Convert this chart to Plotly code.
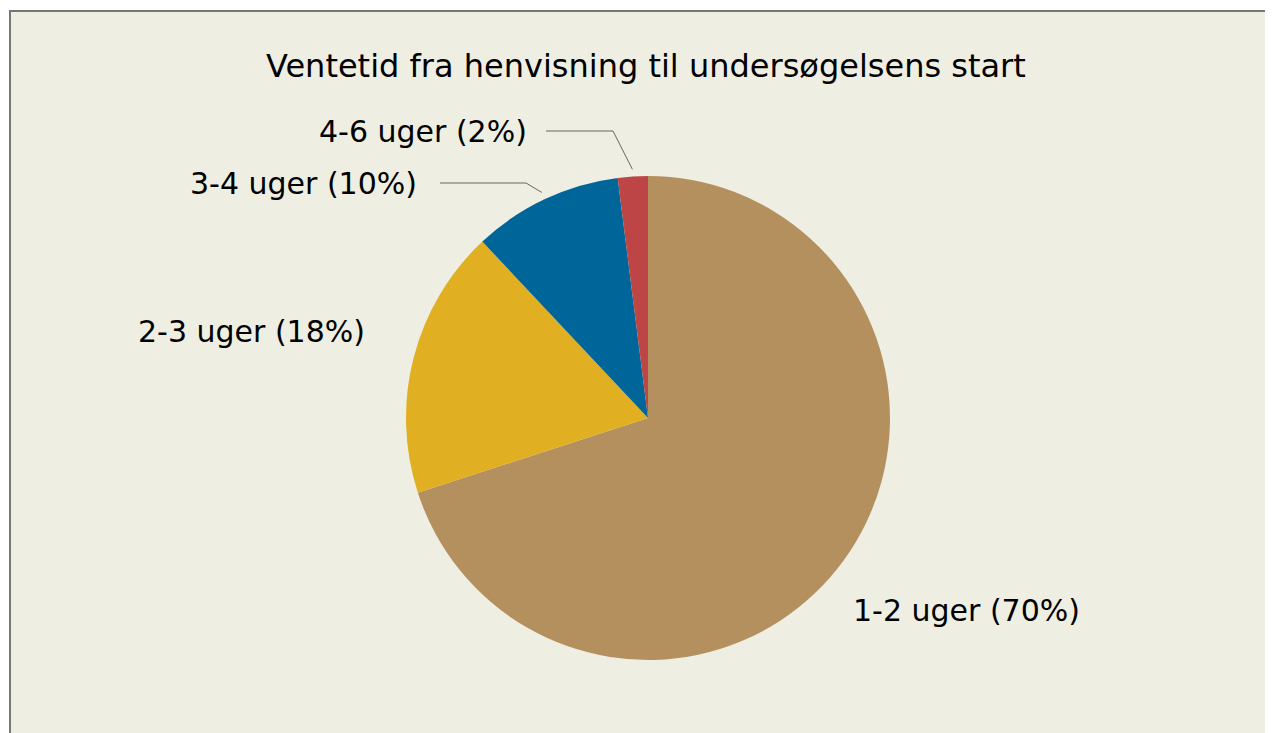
import math
import plotly.graph_objects as go

# data
labels = ["1-2 uger", "2-3 uger", "3-4 uger", "4-6 uger"]
values = [70, 18, 10, 2]
colors = ["#B5905F", "#E1B022", "#006699", "#BE4545"]
title_text = "Ventetid fra henvisning til undersøgelsens start"

# page has an 8px body margin, so the figure is drawn offset by 8px
OFF = 8
W, H = 1273 - OFF, 733 - OFF
FONT = "DejaVu Sans"

# pie geometry in (screen) pixels
cx, cy, r = 648, 418, 242


def px(x):
    return (x - OFF) / W


def py(y):
    return 1 - (y - OFF) / H


fig = go.Figure()
fig.add_trace(go.Pie(
    labels=labels,
    values=values,
    sort=False,
    direction="clockwise",
    rotation=0,
    marker=dict(colors=colors, line=dict(width=0)),
    textinfo="none",
    hoverinfo="label+percent",
    showlegend=False,
    domain=dict(x=[px(cx - r), px(cx + r)], y=[py(cy + r), py(cy - r)]),
))

# label positions (pixel centres) and optional leader line start/end x
label_pos = {
    "1-2 uger": (967, 610, None),
    "2-3 uger": (251, 332, None),
    "3-4 uger": (303, 184, (440, 526)),
    "4-6 uger": (423, 132, (546, 613)),
}

total = sum(values)
cum = 0
shapes = [dict(type="rect", xref="paper", yref="paper", layer="below",
               x0=px(10), x1=1.01, y0=-0.01, y1=py(11),
               fillcolor="#EFEEE3", line=dict(color="#777777", width=2))]
annotations = []
for lab, v in zip(labels, values):
    mid = (cum + v / 2) / total * 2 * math.pi
    cum += v
    tx, ty, lead = label_pos[lab]
    pct = round(v / total * 100)
    annotations.append(dict(
        x=px(tx), y=py(ty), xref="paper", yref="paper", showarrow=False,
        text=f"{lab} ({pct}%)", font=dict(family=FONT, size=30, color="#000000"),
        xanchor="center", yanchor="middle"))
    if lead:
        ex = cx + math.sin(mid) * r * 1.03
        ey = cy - math.cos(mid) * r * 1.03
        path = (f"M {px(lead[0])} {py(ty - 1)} L {px(lead[1])} {py(ty - 1)} "
                f"L {px(ex)} {py(ey)}")
        shapes.append(dict(type="path", xref="paper", yref="paper", path=path,
                           line=dict(color="#666666", width=1)))

annotations.append(dict(
    x=px(646), y=py(66), xref="paper", yref="paper", showarrow=False,
    text=title_text, font=dict(family=FONT, size=32, color="#000000"),
    xanchor="center", yanchor="middle"))

fig.update_layout(
    width=W, height=H,
    margin=dict(l=0, r=0, t=0, b=0),
    paper_bgcolor="white",
    plot_bgcolor="white",
    shapes=shapes,
    annotations=annotations,
)

fig.write_html("out.html")
